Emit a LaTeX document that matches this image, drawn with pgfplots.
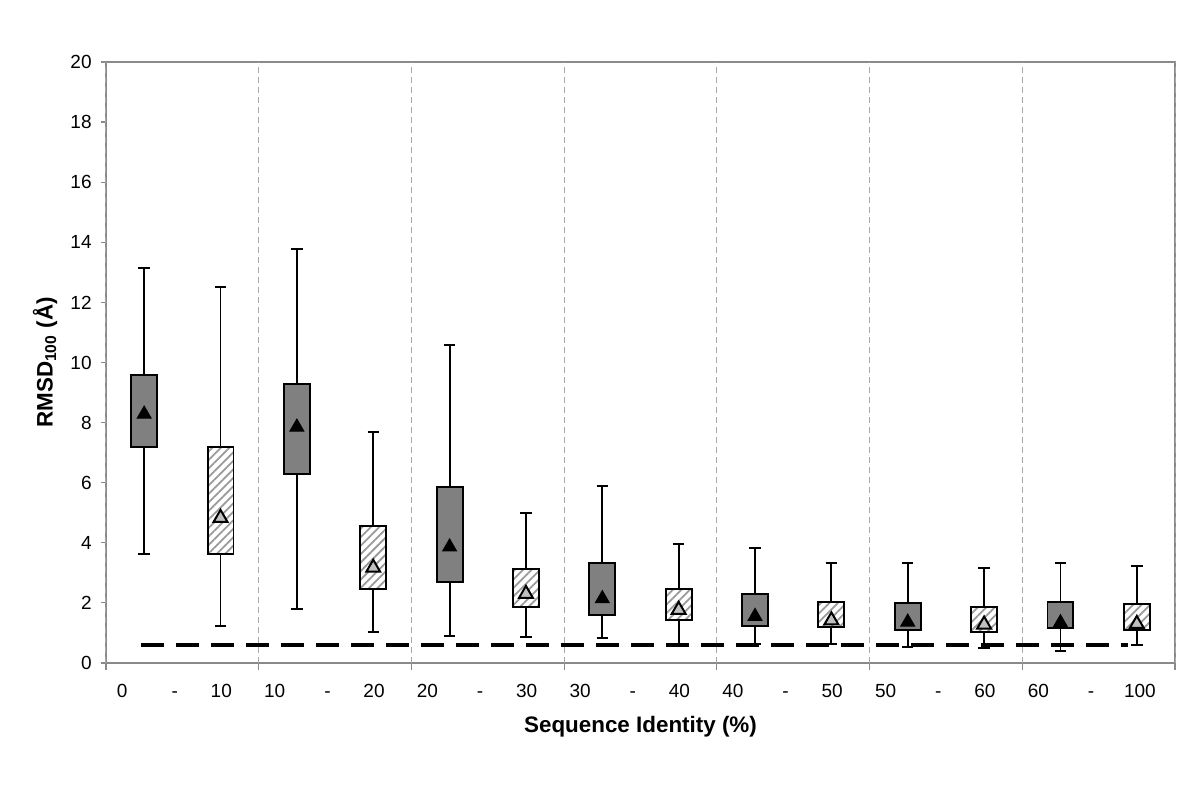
\documentclass[border=0pt]{standalone}
\usepackage{pgfplots}
\pgfplotsset{compat=1.18}
\usepgfplotslibrary{statistics}
\usetikzlibrary{patterns.meta}
\usepackage{fontspec}
\setmainfont{Liberation Sans}
\definecolor{boxdark}{HTML}{808080}
\definecolor{hatchgray}{HTML}{9A9A9A}
\definecolor{trilight}{HTML}{C0C0C0}
\definecolor{axisgray}{HTML}{8A8A8A}
\definecolor{gridgray}{HTML}{A8A8A8}
\begin{document}
\begin{tikzpicture}
\path[use as bounding box] (0,0) rectangle (600pt,398pt);
\begin{axis}[
  at={(53pt,66.5pt)}, anchor=south west,
  scale only axis, width=534.5pt, height=300.5pt,
  xmin=0, xmax=7, ymin=0, ymax=20,
  axis line style={axisgray, line width=0.7pt},
  ytick={0,2,...,20},
  tick align=outside,
  tick pos=left,
  major tick length=2.5pt,
  ytick style={draw=axisgray, line width=0.6pt},
  xtick={0.105,0.45,0.755,1.105,1.45,1.755,2.105,2.45,2.755,3.105,3.45,3.755,4.105,4.45,4.755,5.105,5.45,5.755,6.105,6.45,6.77},
  xticklabels={0,-,10,10,-,20,20,-,30,30,-,40,40,-,50,50,-,60,60,-,100},
  xtick style={draw=none},
  extra x ticks={0,1,2,3,4,5,6,7},
  extra x tick labels={},
  extra x tick style={grid=major, major grid style={gridgray, dash pattern=on 3pt off 2pt, line width=0.5pt},
     major tick length=3.5pt, xtick style={draw=axisgray, line width=0.6pt}},
  /pgf/number format/assume math mode=true,
  tick label style={font=\fontsize{9.5}{11}\selectfont},
  xticklabel style={anchor=north, text height=7pt, text depth=0pt, inner sep=0pt, yshift=-7.5pt},
  yticklabel style={inner sep=0pt, xshift=-4.5pt},
  xlabel={\textbf{Sequence Identity (\%)}},
  ylabel={\textbf{RMSD\textsubscript{100} (Å)}},
  label style={font=\fontsize{11.2}{13}\selectfont},
  xlabel style={at={(axis description cs:0.5,-0.1065)}, anchor=center},
  ylabel style={at={(axis description cs:-0.057,0.5)}, anchor=center},
  boxplot/draw direction=y,
  boxplot/draw/median/.code={},
  boxplot/box extend=0.17,
  boxplot/whisker extend=0.075,
  clip=false,
]
% dark boxes
\addplot[draw=black, fill=boxdark, line width=0.95pt, boxplot prepared={lower whisker=3.64, lower quartile=7.20, median=8.3, upper quartile=9.58, upper whisker=13.13, draw position=0.25}] coordinates {};
\addplot[draw=black, fill=boxdark, line width=0.95pt, boxplot prepared={lower whisker=1.79, lower quartile=6.28, median=7.9, upper quartile=9.28, upper whisker=13.78, draw position=1.25}] coordinates {};
\addplot[draw=black, fill=boxdark, line width=0.95pt, boxplot prepared={lower whisker=0.91, lower quartile=2.71, median=3.9, upper quartile=5.87, upper whisker=10.58, draw position=2.25}] coordinates {};
\addplot[draw=black, fill=boxdark, line width=0.95pt, boxplot prepared={lower whisker=0.84, lower quartile=1.60, median=2.2, upper quartile=3.33, upper whisker=5.88, draw position=3.25}] coordinates {};
\addplot[draw=black, fill=boxdark, line width=0.95pt, boxplot prepared={lower whisker=0.63, lower quartile=1.23, median=1.6, upper quartile=2.29, upper whisker=3.84, draw position=4.25}] coordinates {};
\addplot[draw=black, fill=boxdark, line width=0.95pt, boxplot prepared={lower whisker=0.54, lower quartile=1.10, median=1.4, upper quartile=2.01, upper whisker=3.34, draw position=5.25}] coordinates {};
\addplot[draw=black, fill=boxdark, line width=0.95pt, boxplot prepared={lower whisker=0.41, lower quartile=1.15, median=1.4, upper quartile=2.03, upper whisker=3.34, draw position=6.25}] coordinates {};
% hatched boxes
\addplot[draw=black, line width=0.95pt, pattern={Lines[angle=45,distance=3pt,line width=0.9pt]}, pattern color=hatchgray, boxplot prepared={lower whisker=1.24, lower quartile=3.64, median=4.9, upper quartile=7.20, upper whisker=12.52, draw position=0.75}] coordinates {};
\addplot[draw=black, line width=0.95pt, pattern={Lines[angle=45,distance=3pt,line width=0.9pt]}, pattern color=hatchgray, boxplot prepared={lower whisker=1.02, lower quartile=2.45, median=3.2, upper quartile=4.55, upper whisker=7.69, draw position=1.75}] coordinates {};
\addplot[draw=black, line width=0.95pt, pattern={Lines[angle=45,distance=3pt,line width=0.9pt]}, pattern color=hatchgray, boxplot prepared={lower whisker=0.86, lower quartile=1.85, median=2.4, upper quartile=3.12, upper whisker=4.98, draw position=2.75}] coordinates {};
\addplot[draw=black, line width=0.95pt, pattern={Lines[angle=45,distance=3pt,line width=0.9pt]}, pattern color=hatchgray, boxplot prepared={lower whisker=0.63, lower quartile=1.44, median=1.8, upper quartile=2.45, upper whisker=3.95, draw position=3.75}] coordinates {};
\addplot[draw=black, line width=0.95pt, pattern={Lines[angle=45,distance=3pt,line width=0.9pt]}, pattern color=hatchgray, boxplot prepared={lower whisker=0.63, lower quartile=1.19, median=1.5, upper quartile=2.04, upper whisker=3.32, draw position=4.75}] coordinates {};
\addplot[draw=black, line width=0.95pt, pattern={Lines[angle=45,distance=3pt,line width=0.9pt]}, pattern color=hatchgray, boxplot prepared={lower whisker=0.49, lower quartile=1.03, median=1.35, upper quartile=1.87, upper whisker=3.15, draw position=5.75}] coordinates {};
\addplot[draw=black, line width=0.95pt, pattern={Lines[angle=45,distance=3pt,line width=0.9pt]}, pattern color=hatchgray, boxplot prepared={lower whisker=0.61, lower quartile=1.10, median=1.37, upper quartile=1.97, upper whisker=3.23, draw position=6.75}] coordinates {};
% reference line
\addplot[black, line width=2pt, dash pattern=on 11.5pt off 6pt] coordinates {(0.23,0.6) (6.69,0.6)};
% means
\addplot[only marks, mark=triangle*, mark size=4pt, mark options={fill=black, draw=black, line width=0.5pt}] coordinates {
(0.25,8.28) (1.25,7.85) (2.25,3.86) (3.25,2.14) (4.25,1.55) (5.25,1.36) (6.25,1.34)};
\addplot[only marks, mark=triangle*, mark size=4pt, mark options={fill=trilight, draw=black, line width=1pt}] coordinates {
(0.75,4.83) (1.75,3.17) (2.75,2.30) (3.75,1.77) (4.75,1.42) (5.75,1.28) (6.75,1.30)};
\end{axis}
\end{tikzpicture}
\end{document}
